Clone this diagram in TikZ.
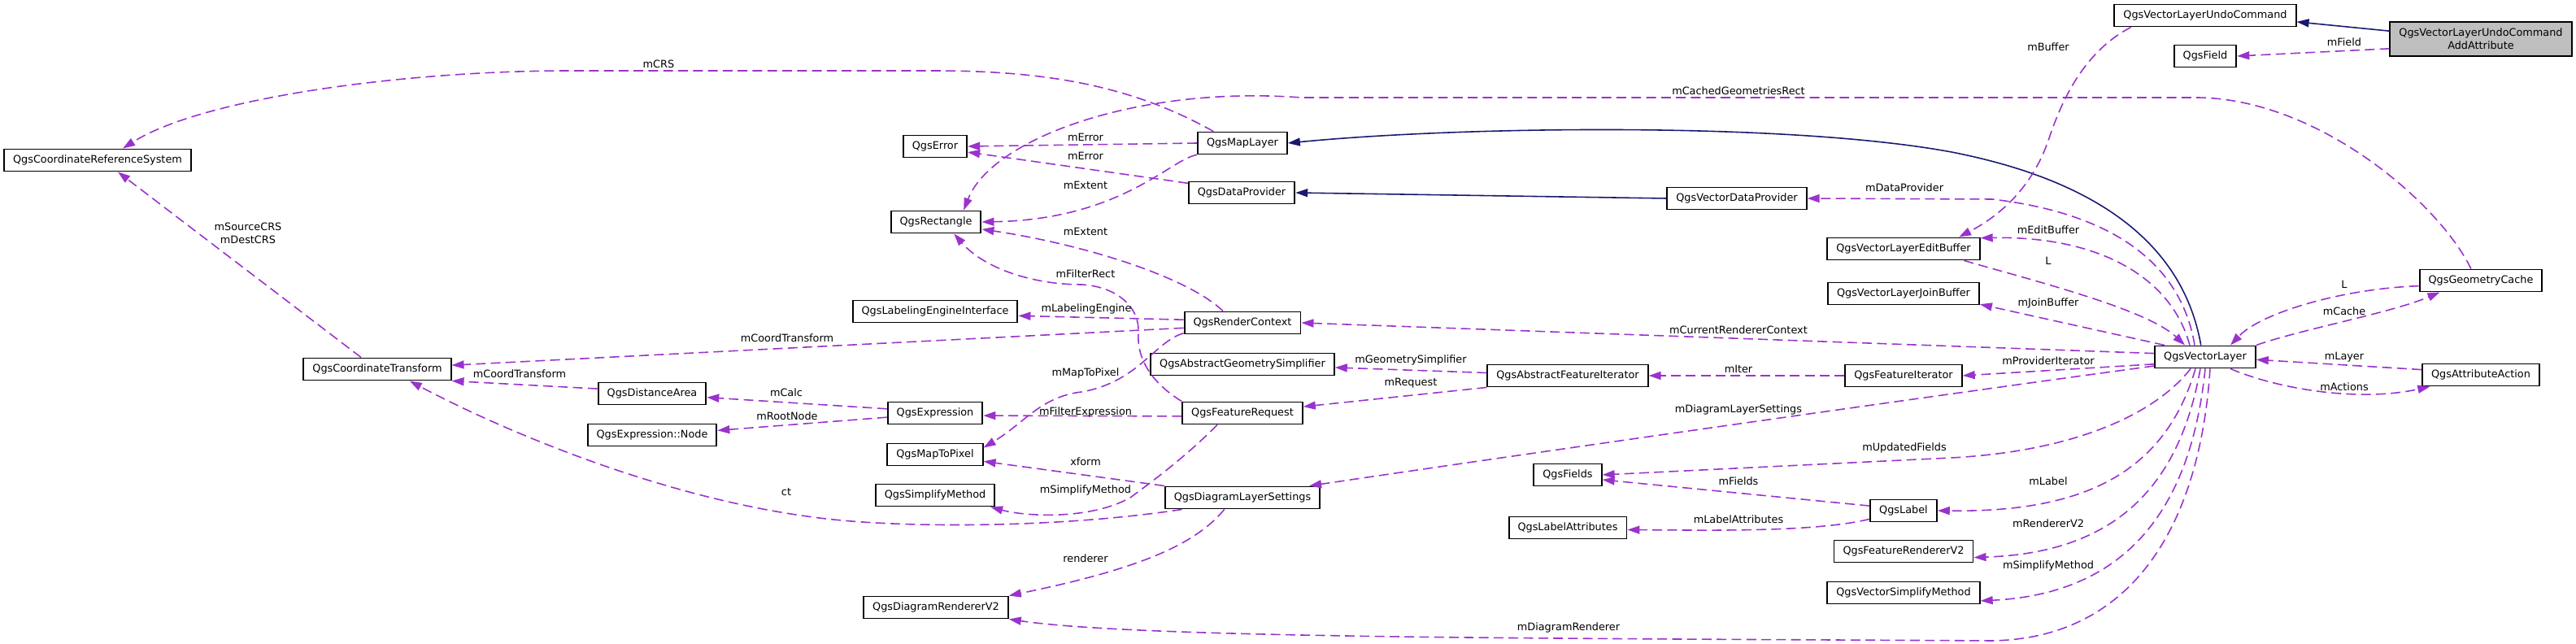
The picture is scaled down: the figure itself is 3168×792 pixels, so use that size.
\documentclass[tikz,border=0pt]{standalone}
\usepackage{fontspec}
\setmainfont{DejaVu Sans}
\usepackage{tikz}
\usetikzlibrary{arrows.meta, calc}
\definecolor{edgepurple}{HTML}{9A32CD}
\definecolor{isanavy}{HTML}{191970}

\begin{document}
\begin{tikzpicture}[x=0.01cm, y=-0.01cm,
  font=\fontsize{3.65pt}{4.5pt}\selectfont,
  cls/.style={draw=black, line width=0.55pt, fill=white, inner xsep=0.11cm, inner ysep=0pt, minimum height=0.27cm},
  uses/.style={edgepurple, line width=0.45pt, dash pattern=on 3.4pt off 1.8pt, -{Triangle[length=0.15cm, width=0.1cm]}},
  isa/.style={isanavy, line width=0.45pt, -{Triangle[length=0.15cm, width=0.1cm]}},
  lbl/.style={inner sep=0pt}]
\useasboundingbox (0,0) rectangle (3168,792);

% classes
\node[cls, fill=black!25, align=center, minimum height=0.42cm] (addattr) at (3051,48) {QgsVectorLayerUndoCommand\\AddAttribute};
\node[cls] (undocmd) at (2712,19) {QgsVectorLayerUndoCommand};
\node[cls] (field) at (2712,69) {QgsField};
\node[cls] (crs) at (120,197) {QgsCoordinateReferenceSystem};
\node[cls] (maplayer) at (1528,176) {QgsMapLayer};
\node[cls] (error) at (1150,180) {QgsError};
\node[cls] (dataprov) at (1527,237) {QgsDataProvider};
\node[cls] (rect) at (1151,273) {QgsRectangle};
\node[cls] (vecdataprov) at (2136,244) {QgsVectorDataProvider};
\node[cls] (editbuf) at (2341,306) {QgsVectorLayerEditBuffer};
\node[cls] (joinbuf) at (2341,361) {QgsVectorLayerJoinBuffer};
\node[cls] (geomcache) at (3051,345) {QgsGeometryCache};
\node[cls] (labeleng) at (1150,383) {QgsLabelingEngineInterface};
\node[cls] (renderctx) at (1528,397) {QgsRenderContext};
\node[cls] (coordtr) at (464,454) {QgsCoordinateTransform};
\node[cls] (geomsimp) at (1528,448) {QgsAbstractGeometrySimplifier};
\node[cls] (absfeatit) at (1928,462) {QgsAbstractFeatureIterator};
\node[cls] (featit) at (2341,462) {QgsFeatureIterator};
\node[cls] (veclayer) at (2712,439) {QgsVectorLayer};
\node[cls] (attraction) at (3051,461) {QgsAttributeAction};
\node[cls] (distarea) at (802,484) {QgsDistanceArea};
\node[cls] (expr) at (1150,508) {QgsExpression};
\node[cls] (exprnode) at (802,535) {QgsExpression::Node};
\node[cls] (featreq) at (1528,508) {QgsFeatureRequest};
\node[cls] (maptopix) at (1150,559) {QgsMapToPixel};
\node[cls] (simpmeth) at (1150,609) {QgsSimplifyMethod};
\node[cls] (diaglayer) at (1528,612) {QgsDiagramLayerSettings};
\node[cls] (fields) at (1928,584) {QgsFields};
\node[cls] (qlabel) at (2341,628) {QgsLabel};
\node[cls] (labelattr) at (1928,649) {QgsLabelAttributes};
\node[cls] (featrend) at (2341,678) {QgsFeatureRendererV2};
\node[cls] (vecsimp) at (2341,729) {QgsVectorSimplifyMethod};
\node[cls] (diagrend) at (1151,747) {QgsDiagramRendererV2};

% inheritance
\draw[isa] (addattr.175) -- (undocmd.-4);
\draw[isa] (veclayer.110) .. controls (2690,330) and (2620,230) .. (2400,187) .. controls (2200,150) and (1800,155) .. (maplayer.east);
\draw[isa] (vecdataprov.west) -- (dataprov.east);

% members
\draw[uses] (addattr.186) -- (field.east);
\node[lbl] at (2883,52) {mField};
\draw[uses] (undocmd.189) .. controls (2570,60) and (2540,110) .. (2520,170) .. controls (2500,230) and (2460,265) .. (editbuf.12);
\node[lbl] at (2519,58) {mBuffer};
\draw[uses] (maplayer.158) .. controls (1400,110) and (1300,87) .. (1150,87) -- (700,87) .. controls (500,87) and (250,120) .. (crs.25);
\node[lbl] at (810,79) {mCRS};
\draw[uses] (maplayer.west) -- (error.east);
\node[lbl] at (1335,169) {mError};
\draw[uses] (dataprov.170) -- (error.-10);
\node[lbl] at (1335,192) {mError};
\draw[uses] (maplayer.south west) .. controls (1440,195) and (1380,270) .. (rect.east);
\node[lbl] at (1335,228) {mExtent};
\draw[uses] (geomcache.130) .. controls (3000,250) and (2850,120) .. (2700,120) -- (1600,120) .. controls (1400,105) and (1220,170) .. (rect.23);
\node[lbl] at (2138,112) {mCachedGeometriesRect};
\draw[uses] ([xshift=-0.13cm]veclayer.north) .. controls (2685,340) and (2620,265) .. (2450,245) -- (vecdataprov.east);
\node[lbl] at (2342,231) {mDataProvider};
\draw[uses] ([xshift=-0.19cm]veclayer.north) .. controls (2670,340) and (2580,290) .. (editbuf.8);
\node[lbl] at (2519,283) {mEditBuffer};
\draw[uses] (editbuf.-11) .. controls (2500,345) and (2640,380) .. ([xshift=-0.25cm]veclayer.north);
\node[lbl] at (2519,321) {L};
\draw[uses] ([xshift=-0.5cm]veclayer.north) -- (joinbuf.-8);
\node[lbl] at (2519,373) {mJoinBuffer};
\draw[uses] (geomcache.185) .. controls (2880,355) and (2780,385) .. ([xshift=0.31cm]veclayer.north);
\node[lbl] at (2883,350) {L};
\draw[uses] (veclayer.north east) .. controls (2830,405) and (2940,385) .. (geomcache.196);
\node[lbl] at (2883,383) {mCache};
\draw[uses] ([xshift=-0.24cm]renderctx.north) .. controls (1460,340) and (1330,300) .. (rect.-9);
\node[lbl] at (1335,285) {mExtent};
\draw[uses] (featreq.north west) .. controls (1415,470) and (1398,440) .. (1400,410) .. controls (1402,375) and (1370,352) .. (1330,350) .. controls (1270,350) and (1210,330) .. (rect.-33);
\node[lbl] at (1335,337) {mFilterRect};
\draw[uses] (renderctx.177) -- (labeleng.-3);
\node[lbl] at (1336,380) {mLabelingEngine};
\draw[uses] (renderctx.185) -- (coordtr.3);
\node[lbl] at (968,416) {mCoordTransform};
\draw[uses] (renderctx.190) .. controls (1420,420) and (1400,470) .. (1330,482) .. controls (1280,488) and (1260,520) .. (maptopix.8);
\node[lbl] at (1335,459) {mMapToPixel};
\draw[uses] (veclayer.176) -- (renderctx.east);
\node[lbl] at (2138,406) {mCurrentRendererContext};
\draw[uses] (absfeatit.178) -- (geomsimp.-2);
\node[lbl] at (1735,443) {mGeometrySimplifier};
\draw[uses] (absfeatit.south west) -- (featreq.6);
\node[lbl] at (1735,471) {mRequest};
\draw[uses] (featit.west) -- (absfeatit.east);
\node[lbl] at (2138,454) {mIter};
\draw[uses] (veclayer.188) -- (featit.east);
\node[lbl] at (2519,444) {mProviderIterator};
\draw[uses] ([xshift=0.31cm]veclayer.south) .. controls (2800,478) and (2900,495) .. (attraction.193);
\node[lbl] at (2883,476) {mActions};
\draw[uses] (attraction.175) -- (veclayer.-3);
\node[lbl] at (2883,439) {mLayer};
\draw[uses] ([xshift=-0.2cm]coordtr.north) -- ([xshift=0.25cm]crs.south);
\node[lbl, align=center] at (305,287) {mSourceCRS\\mDestCRS};
\draw[uses] (distarea.175) -- (coordtr.south east);
\node[lbl] at (639,460) {mCoordTransform};
\draw[uses] (expr.175) -- (distarea.-4);
\node[lbl] at (967,483) {mCalc};
\draw[uses] (expr.185) -- (exprnode.4);
\node[lbl] at (968,512) {mRootNode};
\draw[uses] (featreq.183) -- (expr.-3);
\node[lbl] at (1335,507) {mFilterExpression};
\draw[uses] (diaglayer.north west) -- (maptopix.-8);
\node[lbl] at (1335,568) {xform};
\draw[uses] (featreq.205) .. controls (1460,560) and (1420,590) .. (1390,612) .. controls (1340,640) and (1260,635) .. (simpmeth.-12);
\node[lbl] at (1335,603) {mSimplifyMethod};
\draw[uses] (diaglayer.191) .. controls (1300,650) and (1100,650) .. (1000,636) .. controls (800,610) and (600,520) .. (coordtr.-20);
\node[lbl] at (967,605) {ct};
\draw[uses] (diaglayer.213) .. controls (1470,670) and (1400,700) .. (diagrend.north east);
\node[lbl] at (1335,687) {renderer};
\draw[uses] (veclayer.190) .. controls (2500,470) and (2000,540) .. (diaglayer.10);
\node[lbl] at (2138,504) {mDiagramLayerSettings};
\draw[uses] ([xshift=-0.18cm]veclayer.south) .. controls (2650,510) and (2550,555) .. (2400,563) -- (fields.east);
\node[lbl] at (2342,551) {mUpdatedFields};
\draw[uses] (qlabel.172) -- (fields.-8);
\node[lbl] at (2138,592) {mFields};
\draw[uses] (qlabel.194) .. controls (2230,655) and (2100,652) .. (labelattr.-2);
\node[lbl] at (2138,639) {mLabelAttributes};
\draw[uses] ([xshift=-0.12cm]veclayer.south) .. controls (2660,590) and (2550,630) .. (qlabel.east);
\node[lbl] at (2519,592) {mLabel};
\draw[uses] ([xshift=-0.06cm]veclayer.south) .. controls (2680,600) and (2600,680) .. (featrend.-5);
\node[lbl] at (2519,644) {mRendererV2};
\draw[uses] (veclayer.south) .. controls (2695,620) and (2620,730) .. (vecsimp.-6);
\node[lbl] at (2519,696) {mSimplifyMethod};
\draw[uses] ([xshift=0.06cm]veclayer.south) .. controls (2705,650) and (2620,785) .. (2450,788) .. controls (1900,785) and (1400,785) .. (diagrend.south east);
\node[lbl] at (1929,772) {mDiagramRenderer};
\end{tikzpicture}
\end{document}
